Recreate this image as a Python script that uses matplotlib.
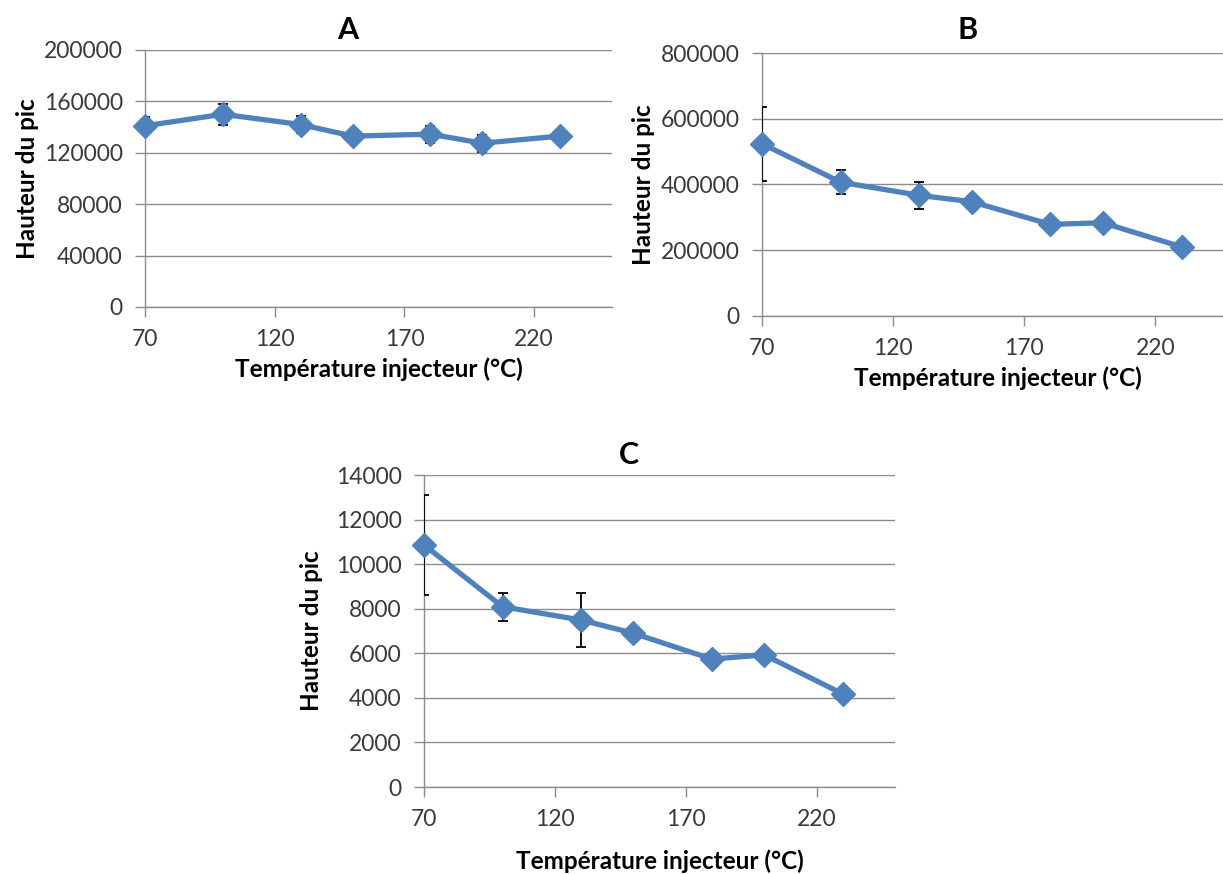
import matplotlib
matplotlib.use("Agg")
import matplotlib.pyplot as plt
import numpy as np

temps = [70, 100, 130, 150, 180, 200, 230]

a_vals = [141000, 150000, 142000, 133000, 134500, 127500, 133000]
a_err = [6500, 8000, 6500, 1000, 6500, 6500, 1000]

b_vals = [524000, 407000, 367000, 347500, 278600, 283700, 210200]
b_err = [112000, 36000, 42000, 5000, 5000, 5000, 5000]

c_vals = [10863, 8090, 7494, 6900, 5740, 5930, 4180]
c_err = [2240, 630, 1190, 100, 250, 100, 100]

titles = ["A", "B", "C"]
ylims = [(0, 200000, 40000), (0, 800000, 200000), (0, 14000, 2000)]
xticks = [70, 120, 170, 220]

plt.rcParams['font.family'] = ['Lato', 'DejaVu Sans']

W, H = 1223, 874
fig = plt.figure(figsize=(W / 100, H / 100), dpi=100)

def ax_rect(l, r, t, b):
    return [l / W, 1 - b / H, (r - l) / W, (b - t) / H]

rects = [ax_rect(145, 612, 50, 307), ax_rect(762, 1234, 53, 316), ax_rect(424, 895, 475, 787)]
xlabpads = [5, 5, 14]
ylabpads = [3, 4, 9]
title_y = [30, 30, 455]

blue = '#4F81BD'
gray = '#8C8C8C'
txt = '#3A3A3A'

for i, (vals, errs) in enumerate([(a_vals, a_err), (b_vals, b_err), (c_vals, c_err)]):
    ax = fig.add_axes(rects[i])
    ymin, ymax, step = ylims[i]
    ax.set_xlim(70, 250)
    ax.set_ylim(ymin, ymax)
    ax.set_yticks(np.arange(ymin, ymax + step / 2, step))
    ax.set_xticks(xticks)
    ax.yaxis.grid(True, color=gray, linewidth=1)
    ax.set_axisbelow(True)
    for s in ['top', 'right']:
        ax.spines[s].set_visible(False)
    for s in ['left', 'bottom']:
        ax.spines[s].set_color(gray)
        ax.spines[s].set_linewidth(1)
    ax.tick_params(axis='both', direction='out', color=gray, length=7, width=1,
                   labelsize=16.5, labelcolor=txt)
    ax.tick_params(axis='y', pad=9)
    ax.tick_params(axis='x', pad=9)
    ax.errorbar(temps, vals, yerr=errs, fmt='none', ecolor='black', elinewidth=1.3,
                capsize=3.5, capthick=1.3, zorder=3)
    ax.plot(temps, vals, color=blue, linewidth=3.8, marker='D', markersize=12,
            markerfacecolor=blue, markeredgecolor=blue, zorder=4, clip_on=False)
    ax.set_xlabel("Température injecteur (°C)", fontsize=17.5, fontweight='bold',
                  color='black', labelpad=xlabpads[i])
    ax.set_ylabel("Hauteur du pic", fontsize=17.5, fontweight='bold', color='black',
                  labelpad=ylabpads[i])
    rect = rects[i]
    cx = rect[0] + 0.435 * rect[2]
    fig.text(cx, 1 - title_y[i] / H, titles[i], fontsize=22, fontweight='bold',
             ha='center', va='center')

fig.savefig("out.png", dpi=100)
